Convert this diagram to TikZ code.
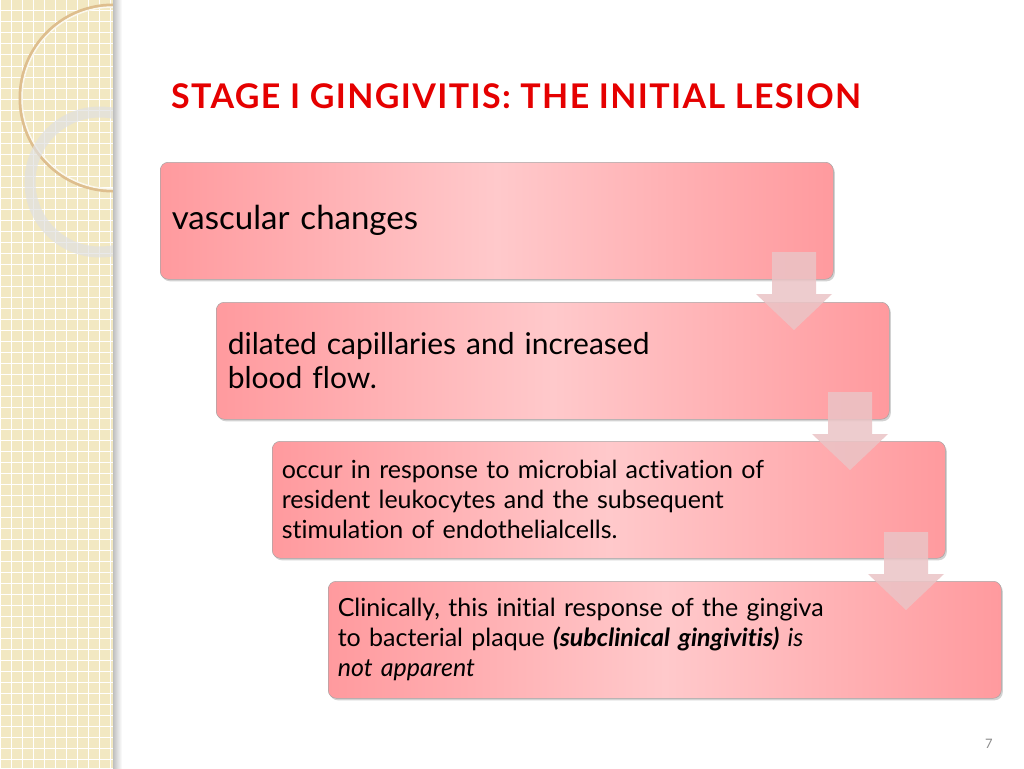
\documentclass[tikz,border=0pt]{standalone}
\usepackage{fontspec}
\setmainfont{Lato}[Ligatures={NoCommon,NoContextual,NoRare}]
\usetikzlibrary{shadows}
\definecolor{strip}{HTML}{F2E8C2}
\definecolor{pinkd}{HTML}{FF9A9E}
\definecolor{pinkl}{HTML}{FFC9CB}
\definecolor{arr}{HTML}{EBC4C6}
\tikzset{
 stepbox/.style={anchor=north west,rounded corners=8pt,minimum width=673pt,minimum height=117pt,
  left color=pinkd,right color=pinkd,middle color=pinkl,draw=black!35,line width=0.5pt,
  drop shadow={shadow xshift=1.5pt,shadow yshift=-2pt,opacity=0.35},
  text width=660pt,align=left,inner sep=0pt},
 downarr/.style={fill=arr,fill opacity=0.85,draw=none}
}
\begin{document}
\begin{tikzpicture}[x=1pt,y=-1pt]
\useasboundingbox (0,0) rectangle (1024,768);
\fill[white] (0,0) rectangle (1024,768);
% left strip
\fill[strip] (0,0) rectangle (113,768);
\begin{scope}
\clip (0,0) rectangle (113,768);
\foreach \i in {0,11,...,770} {\draw[white,line width=1pt] (\i,0) -- (\i,768); \draw[white,line width=1pt] (0,\i) -- (113,\i);}
\draw[brown!40!strip,line width=3pt] (113,98) circle (93);
\draw[white!70!strip,line width=1.5pt] (113,98) circle (91);
\draw[black!12,line width=11pt,opacity=0.7] (100,182) circle (70);
\end{scope}
\fill[left color=black!25,right color=white] (113,0) rectangle (122,768);
% title
\node[anchor=west,inner sep=0pt,text=red!90!black,font=\bfseries\fontsize{34}{38}\selectfont\addfontfeature{LetterSpace=4}] (title) at (171,96) {STAGE I GINGIVITIS: THE INITIAL LESION};
% boxes
\node[stepbox,font=\fontsize{33}{40}\selectfont] (b1) at (160,162) {\noindent\hspace*{5pt}vascular changes};
\node[stepbox,font=\fontsize{30}{34}\selectfont] (b2) at (216,302) {\noindent\hspace*{5pt}\parbox{640pt}{dilated capillaries and increased\\blood flow.}};
\node[stepbox,font=\fontsize{25}{30}\selectfont] (b3) at (272,441) {\noindent\hspace*{3pt}\parbox{640pt}{occur in response to microbial activation of\\resident leukocytes and the subsequent\\stimulation of endothelialcells.}};
\node[stepbox,font=\fontsize{25}{30}\selectfont] (b4) at (328,581) {\noindent\hspace*{3pt}\parbox{640pt}{Clinically, this initial response of the gingiva\\to bacterial plaque \textbf{\textit{(subclinical gingivitis)}} \textit{is}\\\textit{not apparent}}};
% arrows
\foreach \n/\x/\y in {a1/772/252,a2/828/392,a3/884/532}{
 \fill[downarr] (\x,\y) -- (\x+44,\y) -- (\x+44,\y+42) -- (\x+60,\y+42) -- (\x+22,\y+78) -- (\x-16,\y+42) -- (\x,\y+42) -- cycle;
}
\node[text=black!45,font=\fontsize{13}{15}\selectfont] (pg) at (989,744) {7};
\end{tikzpicture}
\end{document}
